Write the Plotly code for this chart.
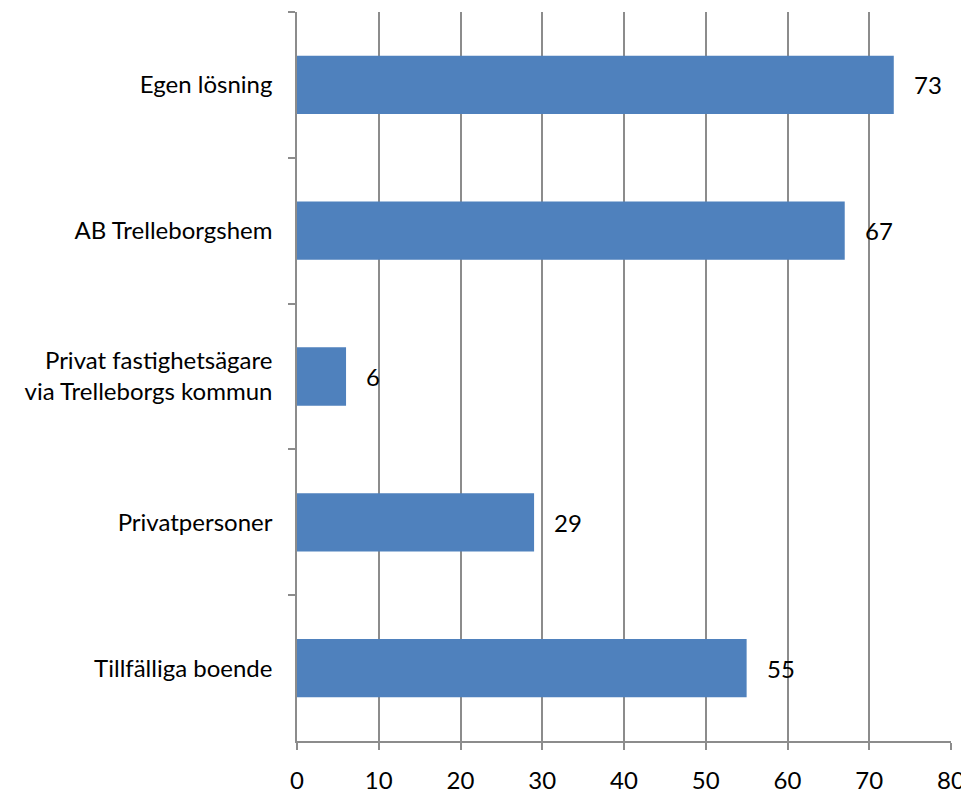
import plotly.graph_objects as go

categories = ["Egen lösning", "AB Trelleborgshem",
              "Privat fastighetsägare<br>via Trelleborgs kommun",
              "Privatpersoner", "Tillfälliga boende"]
values = [73, 67, 6, 29, 55]
x_ticks = [0, 10, 20, 30, 40, 50, 60, 70, 80]

FONT = "Lato"
FS = 24
GRID = "#8c8c8c"

fig = go.Figure()
fig.add_trace(go.Bar(
    y=categories, x=values, orientation="h",
    marker=dict(color="#4F81BD", line=dict(width=0)),
    hoverinfo="skip",
))

for c, v in zip(categories, values):
    fig.add_annotation(x=v, y=c, text=str(v), showarrow=False,
                       xanchor="left", xshift=18,
                       font=dict(family=FONT, size=FS, color="#000000"))

fig.update_layout(
    width=969, height=796,
    margin=dict(l=289, r=26, t=4, b=63),
    paper_bgcolor="white", plot_bgcolor="white",
    showlegend=False,
    bargap=0.6,
    font=dict(family=FONT, size=FS, color="#000000"),
)
fig.update_xaxes(
    range=[0, 80], tickvals=x_ticks,
    showgrid=True, gridcolor=GRID, gridwidth=1.5,
    showline=True, linecolor=GRID, linewidth=1.5,
    ticks="outside", ticklen=7, tickcolor=GRID, tickwidth=1.5,
    zeroline=False, tickfont=dict(family=FONT, size=FS),
    ticklabelstandoff=10,
)
fig.update_yaxes(
    autorange="reversed", type="category",
    showgrid=False,
    showline=True, linecolor=GRID, linewidth=1.5,
    ticks="outside", ticklen=7, tickcolor=GRID, tickwidth=1.5,
    tickson="boundaries",
    tickfont=dict(family=FONT, size=FS),
    ticklabelstandoff=18,
)

fig.write_html("out.html")
